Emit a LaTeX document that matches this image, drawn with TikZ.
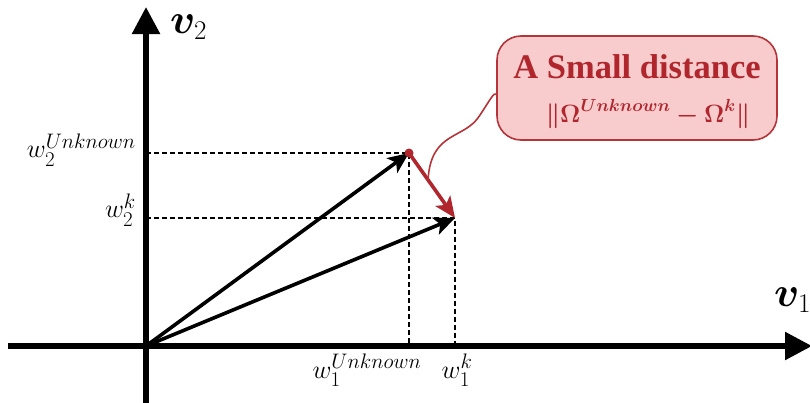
\RequirePackage{fix-cm}
\documentclass[tikz,border=0pt]{standalone}
\usepackage{amsmath,bm}
\usepackage{fontspec}
\setmainfont{Liberation Serif}
\DeclareMathSizes{26}{26}{21}{16}
\DeclareMathSizes{25}{25}{17.5}{13}
\DeclareMathSizes{42}{42}{27}{20}
\usetikzlibrary{arrows.meta}
\definecolor{dred}{HTML}{B0262C}
\definecolor{boxfill}{HTML}{F8CBCD}
\definecolor{boxdraw}{HTML}{B5343A}
\tikzset{
  axis/.style={line width=5.5pt,-{Triangle[length=27pt,width=27pt]}},
  vec/.style={line width=3.6pt,-{Stealth[length=21pt,width=18pt,inset=5pt]}},
  guide/.style={line width=1.6pt,dash pattern=on 5pt off 3pt},
  lbl/.style={font=\fontsize{26}{28}\selectfont,inner sep=0pt},
  big/.style={inner sep=0pt,font=\fontsize{42}{46}\selectfont},
}
\begin{document}
\begin{tikzpicture}[x=1pt,y=-1pt]
\useasboundingbox (0,0) rectangle (810,402);
\coordinate (O) at (146,346);
\coordinate (U) at (409,153);
\coordinate (K) at (455,218);
\coordinate (xl) at (8,346);
\coordinate (xr) at (812,346);
\coordinate (yb) at (146,404);
\coordinate (yt) at (146,7);
\coordinate (U2) at (146,153);
\coordinate (K2) at (146,218);
\coordinate (U1) at (409,346);
\coordinate (K1) at (455,346);
% guides
\draw[guide] (U2) -- (U) -- (U1);
\draw[guide] (K2) -- (K) -- (K1);
% axes
\draw[axis] (xl) -- (xr);
\draw[axis] (yb) -- (yt);
% vectors
\draw[vec] (O) -- (U);
\draw[vec] (O) -- (K);
% red difference
\draw[dred,line width=3.6pt,-{Stealth[length=21pt,width=18pt,inset=5pt]}] (U) -- (K);
\fill[dred] (U) circle (4.5pt);
% callout
\node[draw=boxdraw,line width=1.6pt,fill=boxfill,rounded corners=24pt,
      minimum width=280pt,minimum height=104pt,inner sep=0pt]
  (box) at (637,88) {};
\node[text=dred,inner sep=0pt,font=\fontsize{34.5}{38}\selectfont\bfseries] (t1) at (637,67) {A Small distance};
\node[text=dred,inner sep=0pt,font=\fontsize{25}{28}\selectfont] (t2) at (648,114)
  {$\bm{\Vert\Omega^{Unknown}-\Omega^{k}\Vert}$};
\coordinate (cs) at (428,180);
\coordinate (ce) at ([yshift=-6pt]box.west);
\draw[boxdraw,line width=1.6pt] (cs) .. controls (431,130) and (465,140) .. (480,115)
  .. controls (490,100) and (494,92) .. (ce);
% labels
\node[lbl,anchor=east] (lu2) at (136,150) {$w_2^{Unknown}$};
\node[lbl,anchor=east] (lk2) at (136,210) {$w_2^{k}$};
\node[lbl,anchor=north] (lu1) at (367,354) {$w_1^{Unknown}$};
\node[lbl,anchor=north] (lk1) at (457,354) {$w_1^{k}$};
\node[big,anchor=west] (v2) at (170,27) {$\bm{v}_2$};
\node[big,anchor=west] (v1) at (774,300) {$\bm{v}_1$};
\end{tikzpicture}
\end{document}
